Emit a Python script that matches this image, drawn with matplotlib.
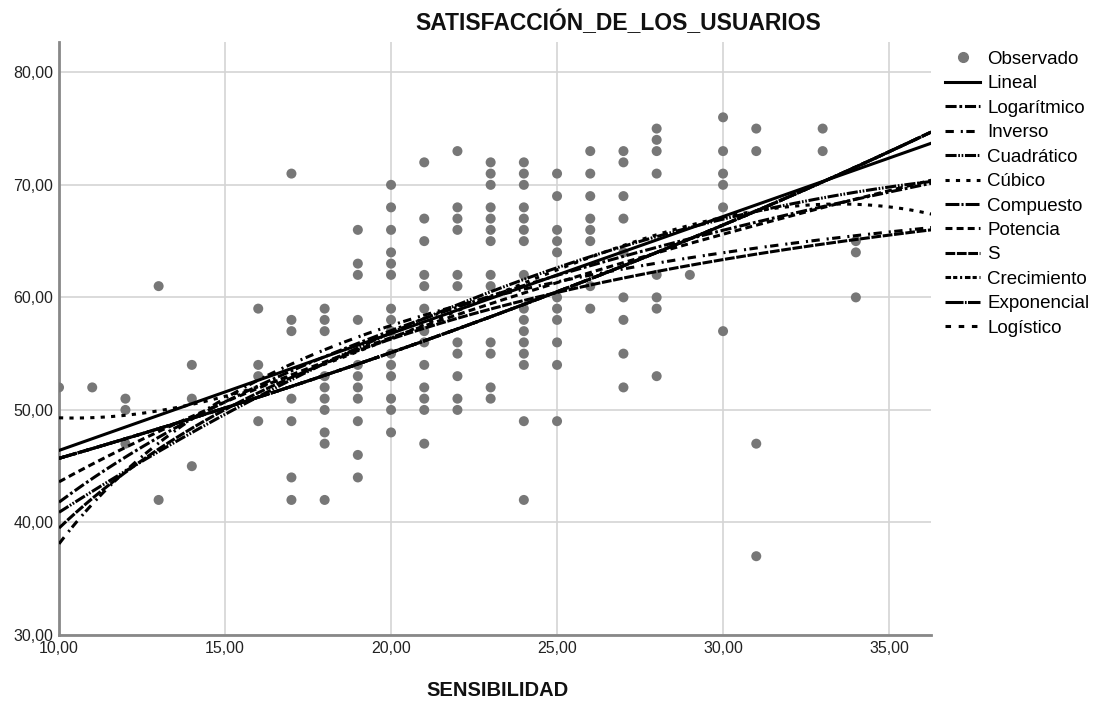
import numpy as np
import matplotlib
matplotlib.use("Agg")
import matplotlib.pyplot as plt
from matplotlib.lines import Line2D

plt.rcParams['font.family'] = ['Liberation Sans', 'DejaVu Sans']
plt.rcParams['lines.scale_dashes'] = False

obs = {
    10: [52],
    11: [52],
    12: [51, 50, 47],
    13: [61, 42],
    14: [54, 51, 45],
    16: [59, 54, 53, 49],
    17: [71, 58, 57, 51, 49, 44, 42],
    18: [59, 58, 57, 53, 52, 51, 50, 48, 47, 42],
    19: [66, 63, 62, 58, 54, 53, 52, 51, 49, 46, 44],
    20: [70, 68, 66, 64, 63, 62, 59, 58, 57, 55, 54, 53, 51, 50, 48],
    21: [72, 67, 65, 62, 61, 59, 57, 56, 54, 52, 51, 50, 47],
    22: [73, 68, 67, 66, 62, 61, 56, 55, 53, 51, 50],
    23: [72, 71, 70, 68, 67, 66, 65, 62, 61, 56, 55, 52, 51],
    24: [72, 71, 70, 68, 67, 66, 65, 62, 59, 58, 57, 56, 55, 54, 49, 42],
    25: [71, 69, 66, 65, 64, 60, 59, 58, 56, 54, 49],
    26: [73, 71, 69, 67, 66, 65, 61, 59],
    27: [73, 72, 69, 67, 64, 60, 58, 55, 52],
    28: [75, 74, 73, 71, 62, 60, 59, 53],
    29: [62],
    30: [76, 73, 71, 70, 68, 57],
    31: [75, 73, 47, 37],
    33: [75, 73],
    34: [65, 64, 60],
}
sens = np.array([k for k, v in obs.items() for _ in v], dtype=float)
satis = np.array([y for v in obs.values() for y in v], dtype=float)

# coeficientes de los modelos ajustados (estimados a partir de las curvas del grafico)
lin_coef = [1.0392, 36.008]            # b1, b0
log_coef = [22.0, -8.86]               # y = b0 + b1 ln x
inv_coef = [-388.0, 76.9]              # y = b0 + b1 / x
quad_coef = [-0.02928, 2.4739, 19.089]
cub_coef = [-0.00311, 0.11174, -0.1, 49.3]   # en (x - 10)
exp_coef = [37.90, 0.018706]           # y = b0 * exp(b1 x)
pow_coef = [18.52, 0.3719]             # y = b0 * x^b1
s_coef = [4.3851, -7.088]              # y = exp(b0 + b1 / x)

x_ticks = [10, 15, 20, 25, 30, 35]
y_ticks = [30, 40, 50, 60, 70, 80]

fig = plt.figure(figsize=(10.93, 7.06), dpi=100)
ax = fig.add_axes([0.054, 0.1006, 0.798, 0.84])

xs = np.linspace(10, 36.27, 300)

fits = {
    'Lineal': np.polyval(lin_coef, xs),
    'Logarítmico': np.polyval(log_coef, np.log(xs)),
    'Inverso': np.polyval(inv_coef, 1 / xs),
    'Cuadrático': np.polyval(quad_coef, xs),
    'Cúbico': np.polyval(cub_coef, xs - 10),
    'Compuesto': exp_coef[0] * np.exp(exp_coef[1] * xs),
    'Potencia': pow_coef[0] * xs ** pow_coef[1],
    'S': np.exp(s_coef[0] + s_coef[1] / xs),
    'Crecimiento': exp_coef[0] * np.exp(exp_coef[1] * xs),
    'Exponencial': exp_coef[0] * np.exp(exp_coef[1] * xs),
    'Logístico': exp_coef[0] * np.exp(exp_coef[1] * xs),
}

styles = {
    'Lineal': '-',
    'Logarítmico': (0, (8, 2, 2, 2)),
    'Inverso': (0, (6, 5, 1.5, 2.5)),
    'Cuadrático': (0, (8, 1.2, 1.2, 1.2, 1.2, 1.2)),
    'Cúbico': (0, (3, 4.5)),
    'Compuesto': (0, (10, 1.5, 1.5, 1.5)),
    'Potencia': (0, (5, 3)),
    'S': (0, (7, 1.2)),
    'Crecimiento': (0, (4, 1.5, 3, 2, 1.5, 2)),
    'Exponencial': (0, (13, 1, 1.2, 1)),
    'Logístico': (0, (4, 5.5)),
}

ax.scatter(sens, satis, s=52, color='#777777', edgecolors='none', zorder=3)
for name, yv in fits.items():
    ax.plot(xs, yv, color='black', lw=2.2, linestyle=styles[name], zorder=4)

ax.set_xlim(10, 36.27)
ax.set_ylim(30, 82.7)
ax.set_xticks(x_ticks)
ax.set_yticks(y_ticks)
ax.set_xticklabels([f'{t},00' for t in x_ticks])
ax.set_yticklabels([f'{t},00' for t in y_ticks])
ax.tick_params(length=0, labelsize=11.5, colors='#222222')
ax.tick_params(axis='x', pad=4)
ax.tick_params(axis='y', pad=4)
ax.grid(True, color='#d4d4d4', lw=1.2)
ax.set_axisbelow(True)
for s in ['top', 'right']:
    ax.spines[s].set_visible(False)
for s in ['left', 'bottom']:
    ax.spines[s].set_color('#888888')
    ax.spines[s].set_linewidth(2)

fig.text(0.566, 0.968, 'SATISFACCIÓN_DE_LOS_USUARIOS', ha='center', va='center',
         fontsize=16.5, fontweight='bold', color='#111111')
fig.text(0.455, 0.022, 'SENSIBILIDAD', ha='center', va='center',
         fontsize=14.5, fontweight='bold', color='#111111')

handles = [Line2D([], [], marker='o', color='#777777', linestyle='none', markersize=7)]
labels = ['Observado']
for name in fits:
    handles.append(Line2D([], [], color='black', lw=2.2, linestyle=styles[name]))
    labels.append(name)
fig.legend(handles, labels, loc='upper left', bbox_to_anchor=(0.8646, 0.928), frameon=False,
           fontsize=13.5, handlelength=1.87, handletextpad=0.37, labelspacing=0.39,
           borderpad=0, borderaxespad=0)

fig.savefig('out.png', dpi=100)
